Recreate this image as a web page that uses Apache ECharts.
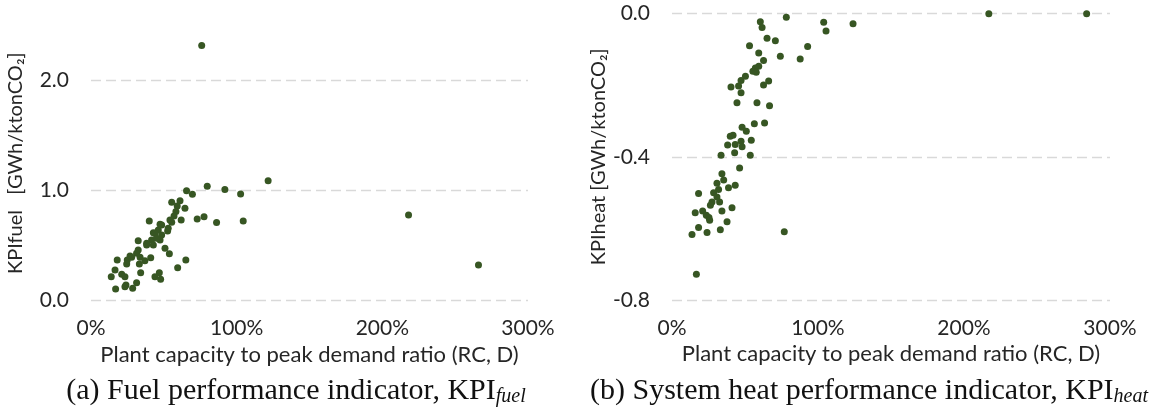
<!DOCTYPE html>
<html>
<head>
<meta charset="utf-8">
<script src="https://cdn.jsdelivr.net/npm/echarts@6/dist/echarts.min.js"></script>
<style>
html,body{margin:0;padding:0;background:#fff;}
#chart{width:1154px;height:416px;}
</style>
</head>
<body>
<div id="chart"></div>
<script>
// Shared x tick labels (percent)
const xTicks = [0, 100, 200, 300];
const yTicksFuel = [0, 1, 2];
const yTicksHeat = [0, -0.4, -0.8];

// (a) KPI fuel: plant capacity to peak demand ratio [%] and KPIfuel
const fuelX = [65.6,69.6,79.8,91.9,102.7,121.6,55.4,61.1,59.2,64.5,58.3,57.0,61.9,55.4,72.9,77.6,86.2,104.5,40.0,47.4,
  42.8,46.2,52.6,48.5,47.4,41.6,38.2,32.4,42.8,50.8,53.8,32.4,31.3,26.8,33.7,41.0,24.9,18.0,37.0,24.5,
  33.2,65.1,59.5,16.5,34.1,46.9,13.9,21.1,23.3,43.9,47.8,31.3,24.0,28.6,16.9,23.3,53.0,43.9,45.0,38.2,
  27.9,48.5,54.2,76,218,266];
const fuelY = [1.00,0.967,1.04,1.01,0.97,1.09,0.894,0.909,0.861,0.84,0.81,0.77,0.734,0.713,0.743,0.764,0.71,0.725,0.725,0.694,
  0.618,0.643,0.634,0.597,0.552,0.552,0.506,0.545,0.506,0.476,0.427,0.461,0.431,0.406,0.394,0.391,0.37,0.37,0.364,0.334,
  0.334,0.37,0.30,0.279,0.255,0.255,0.218,0.24,0.218,0.218,0.194,0.164,0.143,0.113,0.106,0.127,0.658,0.613,0.567,0.522,
  0.394,0.688,0.734,2.32,0.78,0.325];

// (b) KPI heat
const heatX = [78.3,60.5,61.7,65.1,70.8,53.1,92.9,59.4,74.2,87.8,62.7,59.4,57.1,55.4,57.7,50.3,47.3,45.6,40.4,66.2,
  62.7,47.3,44.5,58.2,66.8,63.4,56.4,48.0,50.9,39.9,41.8,54.3,47.3,38.1,43.3,48.0,42.9,33.6,53.6,46.3,
  34.2,35.4,30.8,38.7,43.3,31.9,18.2,28.5,30.8,32.6,27.4,26.3,34.2,41.1,21.0,15.9,23.5,25.3,25.8,37.7,
  18.2,33.1,24.0,13.7,76.9,16.7,103.9,105.5,124,217,284];
const heatY = [-0.012,-0.024,-0.04,-0.07,-0.077,-0.091,-0.093,-0.111,-0.12,-0.128,-0.132,-0.148,-0.153,-0.162,-0.165,-0.176,-0.188,-0.203,-0.206,-0.189,
  -0.2,-0.222,-0.25,-0.25,-0.258,-0.306,-0.308,-0.318,-0.329,-0.343,-0.34,-0.354,-0.357,-0.367,-0.366,-0.372,-0.389,-0.396,-0.396,-0.431,
  -0.447,-0.465,-0.474,-0.486,-0.479,-0.491,-0.502,-0.5,-0.512,-0.526,-0.526,-0.535,-0.551,-0.542,-0.551,-0.556,-0.563,-0.569,-0.577,-0.581,
  -0.597,-0.603,-0.611,-0.616,-0.609,-0.727,-0.026,-0.05,-0.03,-0.002,-0.002];

const xTitle = 'Plant capacity to peak demand ratio (RC, D)';
const yTitleFuel = 'KPIfuel   [GWh/ktonCO\u2082]';
const yTitleHeat = 'KPIheat [GWh/ktonCO\u2082]';
const capA = '(a) Fuel performance indicator, KPI';
const capAsub = 'fuel';
const capB = '(b) System heat performance indicator, KPI';
const capBsub = 'heat';

const pair = (xs, ys) => xs.map((x, i) => [x, ys[i]]);

const sansFont = 'Lato';
const textColor = '#262626';
const dotColor = '#375623';
const gridLine = {show: true, lineStyle: {color: '#d9d9d9', width: 1.3, type: [10, 5]}};

function xAxisCfg(gi) {
  return {
    type: 'value', gridIndex: gi, min: 0, max: 300, interval: 100,
    axisLine: {show: false}, axisTick: {show: false}, splitLine: {show: false},
    axisLabel: {formatter: v => xTicks.indexOf(v) >= 0 ? v + '%' : '', color: textColor, fontFamily: sansFont, fontSize: 21, margin: 17},
    name: xTitle, nameLocation: 'middle', nameGap: 41,
    nameTextStyle: {color: textColor, fontFamily: sansFont, fontSize: 22}
  };
}

const capRich = {
  m: {fontFamily: 'Liberation Serif', fontSize: 30, fontWeight: 'normal', color: '#111', lineHeight: 34},
  s: {fontFamily: 'Liberation Serif', fontSize: 20, fontWeight: 'normal', fontStyle: 'italic', color: '#111', lineHeight: 34, padding: [12, 0, 0, 0]}
};

const option = {
  animation: false,
  backgroundColor: '#fff',
  grid: [
    {left: 91, right: 626, top: 25.7, bottom: 115.3},
    {left: 672, right: 44, top: 13, bottom: 115.5}
  ],
  xAxis: [xAxisCfg(0), xAxisCfg(1)],
  yAxis: [
    {
      type: 'value', gridIndex: 0, min: 0, max: 2.5, interval: 1,
      axisLine: {show: false}, axisTick: {show: false},
      splitLine: Object.assign({showMaxLine: false}, gridLine),
      axisLabel: {showMaxLabel: false, formatter: v => yTicksFuel.indexOf(v) >= 0 ? v.toFixed(1) : '', color: textColor, fontFamily: sansFont, fontSize: 21, margin: 22},
      name: yTitleFuel, nameLocation: 'middle', nameGap: 65, nameRotate: 90,
      nameTextStyle: {color: textColor, fontFamily: sansFont, fontSize: 20}
    },
    {
      type: 'value', gridIndex: 1, min: -0.8, max: 0, interval: 0.4,
      axisLine: {show: false}, axisTick: {show: false},
      splitLine: gridLine,
      axisLabel: {formatter: v => v.toFixed(1), color: textColor, fontFamily: sansFont, fontSize: 21, margin: 22},
      name: yTitleHeat, nameLocation: 'middle', nameGap: 62, nameRotate: 90,
      nameTextStyle: {color: textColor, fontFamily: sansFont, fontSize: 20}
    }
  ],
  title: [
    {text: '{m|' + capA + '}{s|' + capAsub + '}', left: 291, top: 369, textAlign: 'center', textStyle: {fontWeight: 'normal', rich: capRich}},
    {text: '{m|' + capB + '}{s|' + capBsub + '}', left: 864, top: 369, textAlign: 'center', textStyle: {fontWeight: 'normal', rich: capRich}}
  ],
  series: [
    {type: 'scatter', xAxisIndex: 0, yAxisIndex: 0, data: pair(fuelX, fuelY), symbolSize: 7, itemStyle: {color: dotColor, opacity: 1}, clip: false},
    {type: 'scatter', xAxisIndex: 1, yAxisIndex: 1, data: pair(heatX, heatY), symbolSize: 7, itemStyle: {color: dotColor, opacity: 1}, clip: false}
  ]
};

const chart = echarts.init(document.getElementById('chart'), null, {renderer: 'canvas'});
chart.setOption(option);
</script>
</body>
</html>
